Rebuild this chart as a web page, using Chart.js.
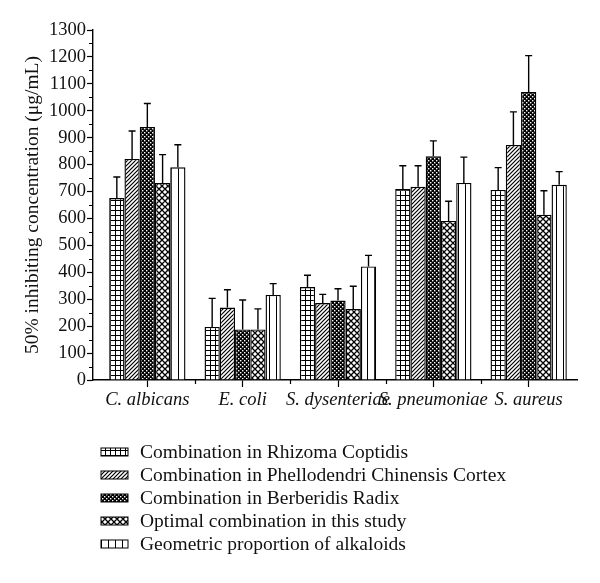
<!DOCTYPE html>
<html>
<head>
<meta charset="utf-8">
<script src="https://cdn.jsdelivr.net/npm/chart.js@4"></script>
<style>
  html, body { margin: 0; padding: 0; background: #fff; }
  #wrap { width: 600px; height: 583px; position: relative; }
</style>
</head>
<body>
<div id="wrap"><canvas id="graph"></canvas></div>
<script>
const organisms = ["C. albicans", "E. coli", "S. dysenteriae", "S. pneumoniae", "S. aureus"];
const seriesNames = [
  "Combination in Rhizoma Coptidis",
  "Combination in Phellodendri Chinensis Cortex",
  "Combination in Berberidis Radix",
  "Optimal combination in this study",
  "Geometric proportion of alkaloids",
];
const rhizoma = [676, 197, 345, 709, 706];
const phellodendri = [821, 269, 286, 718, 873];
const berberidis = [940, 188, 295, 831, 1070];
const optimal = [732, 188, 264, 591, 614];
const geometric = [790, 316, 422, 732, 725];

const rhizomaErr = [78, 106, 44, 87, 83];
const phellodendriErr = [104, 66, 32, 78, 123];
const berberidisErr = [87, 109, 44, 57, 135];
const optimalErr = [105, 76, 84, 73, 89];
const geometricErr = [84, 42, 41, 96, 49];

const yTicks = [0, 100, 200, 300, 400, 500, 600, 700, 800, 900, 1000, 1100, 1200, 1300];

const ctx = document.getElementById("graph").getContext("2d");
const FONT = "'Liberation Serif', 'DejaVu Serif', serif";

// little tiles for the hatch fills
const makeTile = (w, h, draw) => {
  const c = document.createElement("canvas");
  c.width = w;
  c.height = h;
  const t = c.getContext("2d");
  t.fillStyle = "#fff";
  t.fillRect(0, 0, w, h);
  t.strokeStyle = "#000";
  t.fillStyle = "#000";
  draw(t);
  return ctx.createPattern(c, "repeat");
};

const patterns = [
  // grid
  makeTile(5, 5, (t) => {
    t.fillRect(0, 0, 5, 1);
    t.fillRect(0, 0, 1, 5);
  }),
  // diagonal /
  makeTile(4, 4, (t) => {
    t.lineWidth = 1.2;
    t.beginPath();
    t.moveTo(-1, 5); t.lineTo(5, -1);
    t.moveTo(-3, 3); t.lineTo(3, -3);
    t.moveTo(1, 7); t.lineTo(7, 1);
    t.stroke();
  }),
  // dense dark checker
  makeTile(4, 4, (t) => {
    t.fillRect(0, 0, 4, 4);
    t.fillStyle = "#fff";
    t.fillRect(0, 0, 1.4, 1.4);
    t.fillRect(2, 2, 1.4, 1.4);
  }),
  // diagonal crosshatch
  makeTile(6, 6, (t) => {
    t.lineWidth = 1.3;
    t.beginPath();
    t.moveTo(0, 0); t.lineTo(6, 6);
    t.moveTo(6, 0); t.lineTo(0, 6);
    t.moveTo(-3, 3); t.lineTo(3, -3);
    t.moveTo(3, 9); t.lineTo(9, 3);
    t.moveTo(-3, 3); t.lineTo(3, 9);
    t.moveTo(3, -3); t.lineTo(9, 3);
    t.stroke();
  }),
  // vertical lines
  makeTile(7, 7, (t) => {
    t.fillRect(3, 0, 1, 7);
  }),
];

const seriesValues = [rhizoma, phellodendri, berberidis, optimal, geometric];
const seriesErrors = [rhizomaErr, phellodendriErr, berberidisErr, optimalErr, geometricErr];

const datasets = seriesValues.map((vals, k) => ({
  label: seriesNames[k],
  data: vals.map((v, i) => ({ x: i, y: v })),
  errors: seriesErrors[k],
  backgroundColor: patterns[k],
  borderColor: "#000",
  borderWidth: 1.4,
  categoryPercentage: 0.8,
  barPercentage: 1.0,
}));

// upper error bars with caps
const errorBars = {
  id: "errorBars",
  afterDatasetsDraw(chart) {
    const c = chart.ctx;
    const y = chart.scales.y;
    c.save();
    c.strokeStyle = "#000";
    c.lineWidth = 1.4;
    chart.data.datasets.forEach((ds, k) => {
      chart.getDatasetMeta(k).data.forEach((bar, i) => {
        const top = y.getPixelForValue(ds.data[i].y + ds.errors[i]);
        c.beginPath();
        c.moveTo(bar.x, bar.y);
        c.lineTo(bar.x, top);
        c.moveTo(bar.x - 3.5, top);
        c.lineTo(bar.x + 3.5, top);
        c.stroke();
      });
    });
    c.restore();
  },
};

// short in-between ticks on both axes
const minorTicks = {
  id: "minorTicks",
  afterDraw(chart) {
    const c = chart.ctx;
    const { x, y } = chart.scales;
    const area = chart.chartArea;
    c.save();
    c.strokeStyle = "#000";
    c.lineWidth = 1.2;
    c.beginPath();
    for (let v = 50; v < 1300; v += 100) {
      const py = Math.round(y.getPixelForValue(v)) + 0.5;
      c.moveTo(area.left, py);
      c.lineTo(area.left - 4, py);
    }
    for (let i = 0; i < organisms.length - 1; i++) {
      const px = Math.round(x.getPixelForValue(i + 0.5)) + 0.5;
      c.moveTo(px, area.bottom);
      c.lineTo(px, area.bottom + 4);
    }
    c.stroke();
    c.restore();
  },
};

// legend stacked in one column under the plot
const columnLegend = {
  id: "columnLegend",
  afterDraw(chart) {
    const c = chart.ctx;
    c.save();
    c.font = "19.5px " + FONT;
    c.textBaseline = "middle";
    c.textAlign = "left";
    chart.data.datasets.forEach((ds, k) => {
      const cy = 452 + k * 23;
      c.fillStyle = ds.backgroundColor;
      c.fillRect(101, cy - 4, 27, 8);
      c.strokeStyle = "#000";
      c.lineWidth = 1;
      c.strokeRect(101, cy - 4, 27, 8);
      c.fillStyle = "#111";
      c.fillText(ds.label, 140, cy + 1);
    });
    c.restore();
  },
};

new Chart(ctx, {
  type: "bar",
  data: { datasets },
  options: {
    responsive: true,
    maintainAspectRatio: false,
    animation: false,
    layout: { padding: { top: 30, right: 23, left: 0, bottom: 163 } },
    plugins: {
      legend: { display: false },
      tooltip: { enabled: false },
    },
    scales: {
      x: {
        type: "linear",
        min: -0.57,
        max: 4.507,
        offset: false,
        afterBuildTicks: (scale) => {
          scale.ticks = organisms.map((_, i) => ({ value: i }));
        },
        afterFit: (scale) => {
          scale.height = 40;
        },
        grid: {
          offset: false,
          drawOnChartArea: false,
          drawTicks: true,
          tickLength: 7,
          tickColor: "#000",
          tickWidth: 1.2,
        },
        border: { display: true, color: "#000", width: 1.4 },
        ticks: {
          autoSkip: false,
          maxRotation: 0,
          padding: 2,
          color: "#111",
          font: { family: FONT, size: 18.5, style: "italic" },
          callback: (v) => organisms[v],
        },
      },
      y: {
        min: 0,
        max: 1300,
        afterBuildTicks: (scale) => {
          scale.ticks = yTicks.map((v) => ({ value: v }));
        },
        afterFit: (scale) => {
          scale.width = 93;
        },
        grid: {
          drawOnChartArea: false,
          drawTicks: true,
          tickLength: 6,
          tickColor: "#000",
          tickWidth: 1.2,
        },
        border: { display: true, color: "#000", width: 1.4 },
        ticks: {
          padding: 1,
          color: "#111",
          font: { family: FONT, size: 18.5 },
          callback: (v) => String(v),
        },
        title: {
          display: true,
          text: "50% inhibiting concentration (\u03bcg/mL)",
          color: "#111",
          font: { family: FONT, size: 19.5 },
          padding: { top: 21, bottom: 0 },
        },
      },
    },
  },
  plugins: [errorBars, minorTicks, columnLegend],
});
</script>
</body>
</html>
